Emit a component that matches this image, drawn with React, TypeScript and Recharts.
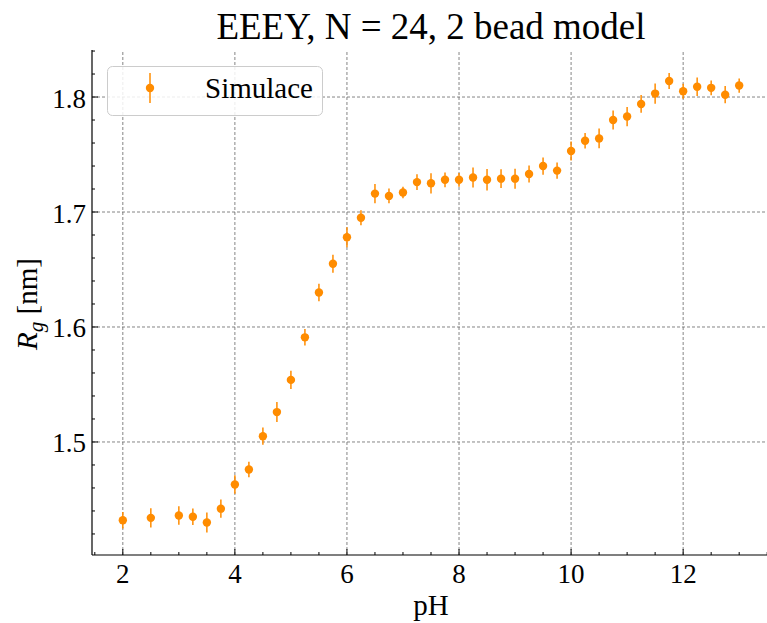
import React from "react";
import { ScatterChart, Scatter, XAxis, YAxis, ErrorBar, ReferenceLine } from "recharts";

const FONT = '"Liberation Serif", "Times New Roman", serif';
const ORANGE = "#ff8c00";

const ph = [
  2, 2.5, 3, 3.25, 3.5, 3.75, 4, 4.25, 4.5, 4.75, 5, 5.25, 5.5, 5.75, 6, 6.25,
  6.5, 6.75, 7, 7.25, 7.5, 7.75, 8, 8.25, 8.5, 8.75, 9, 9.25, 9.5, 9.75, 10,
  10.25, 10.5, 10.75, 11, 11.25, 11.5, 11.75, 12, 12.25, 12.5, 12.75, 13,
];
const rg = [
  1.432, 1.434, 1.436, 1.435, 1.43, 1.442, 1.463, 1.476, 1.505, 1.526, 1.554,
  1.591, 1.63, 1.655, 1.678, 1.695, 1.716, 1.714, 1.717, 1.726, 1.725, 1.728,
  1.728, 1.73, 1.728, 1.729, 1.729, 1.733, 1.74, 1.736, 1.753, 1.762, 1.764,
  1.78, 1.783, 1.794, 1.803, 1.814, 1.805, 1.809, 1.808, 1.802, 1.81,
];
const rgErr = [
  0.0072, 0.0084, 0.008, 0.0072, 0.0087, 0.008, 0.008, 0.0067, 0.0075, 0.0087,
  0.008, 0.0072, 0.0077, 0.0078, 0.0087, 0.0065, 0.0083, 0.0064, 0.005, 0.0068,
  0.0088, 0.0064, 0.006, 0.0087, 0.0094, 0.0081, 0.0087, 0.0074, 0.0075, 0.007,
  0.0083, 0.0067, 0.0086, 0.0083, 0.0084, 0.0077, 0.0088, 0.007, 0.0065, 0.008,
  0.0064, 0.0075, 0.0062,
];

const xMajor = [2, 4, 6, 8, 10, 12];
const xTicks = [
  1.5, 2, 2.5, 3, 3.5, 4, 4.5, 5, 5.5, 6, 6.5, 7, 7.5, 8, 8.5, 9, 9.5, 10,
  10.5, 11, 11.5, 12, 12.5, 13, 13.5,
];
const yMajor = [1.5, 1.6, 1.7, 1.8];
const yTicks = [
  1.42, 1.44, 1.46, 1.48, 1.5, 1.52, 1.54, 1.56, 1.58, 1.6, 1.62, 1.64, 1.66,
  1.68, 1.7, 1.72, 1.74, 1.76, 1.78, 1.8, 1.82, 1.84,
];

const data = ph.map((x, i) => ({ x, y: rg[i], err: rgErr[i] }));

const isMajor = (list: number[], v: number) =>
  list.some((m) => Math.abs(m - v) < 1e-6);

function BottomTick({ x, y, payload }: any) {
  const major = isMajor(xMajor, payload.value);
  return (
    <g>
      <line x1={x} x2={x} y1={y} y2={y - (major ? 6 : 3)} stroke="#000" strokeWidth={1} />
      {major && (
        <text x={x} y={y + 28} textAnchor="middle" fontSize={27} style={{ fontFamily: FONT }} fill="#000">
          {payload.value}
        </text>
      )}
    </g>
  );
}

function TopTick({ x, y, payload }: any) {
  const major = isMajor(xMajor, payload.value);
  return <line x1={x} x2={x} y1={y} y2={y + (major ? 6 : 3)} stroke="#000" strokeWidth={1} />;
}

function LeftTick({ x, y, payload }: any) {
  const major = isMajor(yMajor, payload.value);
  return (
    <g>
      <line x1={x} x2={x + (major ? 6 : 3)} y1={y} y2={y} stroke="#000" strokeWidth={1} />
      {major && (
        <text x={x - 6} y={y + 10.5} textAnchor="end" fontSize={27} style={{ fontFamily: FONT }} fill="#000">
          {payload.value.toFixed(1)}
        </text>
      )}
    </g>
  );
}

export default function App() {
  return (
    <div
      style={{
        position: "relative",
        width: 767,
        height: 623,
        overflow: "hidden",
        background: "#fff",
        fontFamily: FONT,
      }}
    >
      <style>{"html,body{margin:0;padding:0;overflow:hidden;background:#fff}"}</style>
      <ScatterChart width={790} height={623} margin={{ top: 50, right: 20, bottom: 0, left: 0 }}>
        <XAxis
          dataKey="x"
          type="number"
          domain={[1.45, 13.55]}
          allowDataOverflow
          ticks={xTicks}
          interval={0}
          height={68}
          tickSize={0}
          tickMargin={0}
          tickLine={false}
          tick={<BottomTick />}
          axisLine={{ stroke: "#000", strokeWidth: 1.2 }}
        />
        <XAxis
          xAxisId="top"
          orientation="top"
          type="number"
          domain={[1.45, 13.55]}
          allowDataOverflow
          ticks={xTicks}
          interval={0}
          height={0}
          tickSize={0}
          tickMargin={0}
          tickLine={false}
          tick={<TopTick />}
          axisLine={{ stroke: "#000", strokeWidth: 1.2 }}
        />
        <YAxis
          dataKey="y"
          type="number"
          domain={[1.4017, 1.8409]}
          allowDataOverflow
          ticks={yTicks}
          interval={0}
          width={92}
          tickSize={0}
          tickMargin={0}
          tickLine={false}
          tick={<LeftTick />}
          axisLine={{ stroke: "#000", strokeWidth: 1.2 }}
        />
        {xMajor.map((v) => (
          <ReferenceLine key={"gx" + v} x={v} stroke="#666" strokeWidth={0.8} strokeDasharray="3 2" />
        ))}
        {yMajor.map((v) => (
          <ReferenceLine key={"gy" + v} y={v} stroke="#666" strokeWidth={0.8} strokeDasharray="3 2" />
        ))}
        <Scatter
          data={data}
          fill={ORANGE}
          isAnimationActive={false}
          shape={(p: any) => <circle cx={p.cx} cy={p.cy} r={4.2} fill={ORANGE} />}
        >
          <ErrorBar dataKey="err" direction="y" width={0} stroke={ORANGE} strokeWidth={1.5} />
        </Scatter>
      </ScatterChart>

      <svg
        width={767}
        height={623}
        style={{ position: "absolute", left: 0, top: 0, pointerEvents: "none", fontFamily: FONT }}
      >
        <text x={431} y={39} textAnchor="middle" fontSize={37} fill="#000">
          EEEY, N = 24, 2 bead model
        </text>
        <text x={431} y={615} textAnchor="middle" fontSize={29} fill="#000">
          pH
        </text>
        <text transform="translate(37,304) rotate(-90)" textAnchor="middle" fontSize={29} fill="#000">
          <tspan fontStyle="italic">R</tspan>
          <tspan fontStyle="italic" fontSize={21} dy={6}>g</tspan>
          <tspan dy={-6}> [nm]</tspan>
        </text>
        <rect x={107.5} y={66.5} width={215} height={49} rx={5} fill="#fff" fillOpacity={0.85} stroke="#ccc" />
        <line x1={150} x2={150} y1={73} y2={103} stroke={ORANGE} strokeWidth={1.5} />
        <circle cx={150} cy={88} r={4.2} fill={ORANGE} />
        <text x={205} y={98} fontSize={29} fill="#000">
          Simulace
        </text>
      </svg>
    </div>
  );
}
